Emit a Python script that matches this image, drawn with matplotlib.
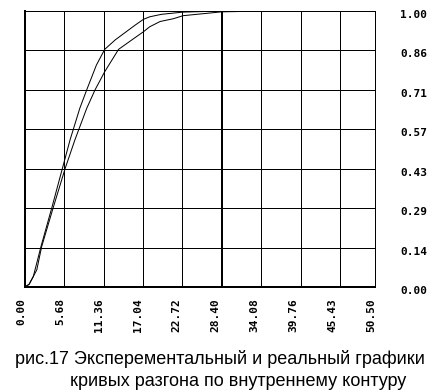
import numpy as np
import matplotlib
matplotlib.use('Agg')
import matplotlib.pyplot as plt

# curve data
t_exp = [0, 0.6, 1.2, 2.3, 3.9, 5.4, 6.5, 7.9, 8.9, 10.3, 11.5, 13.0, 15.9, 17.1, 18.0, 19.7, 22.8, 28.4, 35.0]
y_exp = [0, 0.010, 0.038, 0.146, 0.290, 0.430, 0.533, 0.647, 0.714, 0.804, 0.861, 0.895, 0.949, 0.970, 0.979, 0.988, 0.996, 1.000, 1.000]

t_real = [0, 0.6, 1.7, 2.4, 4.1, 5.8, 7.2, 8.9, 10.1, 11.5, 13.5, 15.4, 17.1, 18.0, 19.5, 21.4, 22.8, 28.4, 35.0]
y_real = [0, 0.010, 0.062, 0.146, 0.290, 0.430, 0.533, 0.647, 0.714, 0.780, 0.861, 0.895, 0.925, 0.943, 0.962, 0.972, 0.983, 0.997, 1.000]

xticks = [0.00, 5.68, 11.36, 17.04, 22.72, 28.40, 34.08, 39.76, 45.43, 50.50]
yticks = [0.00, 0.14, 0.29, 0.43, 0.57, 0.71, 0.86, 1.00]
xmax = 50.50
ymax = 1.00
caption1 = 'рис.17 Эксперементальный и реальный графики'
caption2 = 'кривых разгона по внутреннему контуру'

fig = plt.figure(figsize=(4.44, 3.9), dpi=100)
ax = fig.add_axes([25/444, 103/390, 350/444, 276/390])

thin = 0.72   # 1 px
thick = 1.44  # 2 px

# grid: vertical at x ticks, horizontal at 1/7 steps
for xv in xticks[1:-1]:
    lw = thick if abs(xv - 28.40) < 1e-6 else thin
    ax.axvline(xv, color='black', lw=lw, antialiased=False)
for k in range(1, 7):
    ax.axhline(k / 7.0, color='black', lw=thin, antialiased=False)

ax.plot(t_exp, y_exp, color='black', lw=thin)
ax.plot(t_real, y_real, color='black', lw=thin)

ax.set_xlim(0, xmax)
ax.set_ylim(0, ymax)
ax.set_xticks([])
ax.set_yticks([])
for s in ['top', 'right']:
    ax.spines[s].set_linewidth(thin)
for s in ['left', 'bottom']:
    ax.spines[s].set_linewidth(thick)

# tick labels placed by hand in the old plotter's style
lab_font = dict(family='DejaVu Sans Mono', weight='bold', size=8)
for k, lab in enumerate(yticks):
    ax.annotate('%.2f' % lab, xy=(1.0, k / 7.0), xycoords=('axes fraction', 'data'),
                xytext=(25, -4), textcoords='offset pixels',
                ha='left', va='center', **lab_font)
xpos = np.linspace(0, xmax, 10)
for xv, lab in zip(xpos, xticks):
    ax.annotate('%.2f' % lab, xy=(xv, 0), xycoords=('data', 'axes fraction'),
                xytext=(-4, -11), textcoords='offset pixels',
                ha='center', va='top', rotation=90, **lab_font)

fig.text(15/444, 1 - 364/390, caption1, family='Liberation Sans', size=13, ha='left', va='baseline')
fig.text(70/444, 1 - 386/390, caption2, family='Liberation Sans', size=13, ha='left', va='baseline')

fig.savefig('out.png', dpi=100)
